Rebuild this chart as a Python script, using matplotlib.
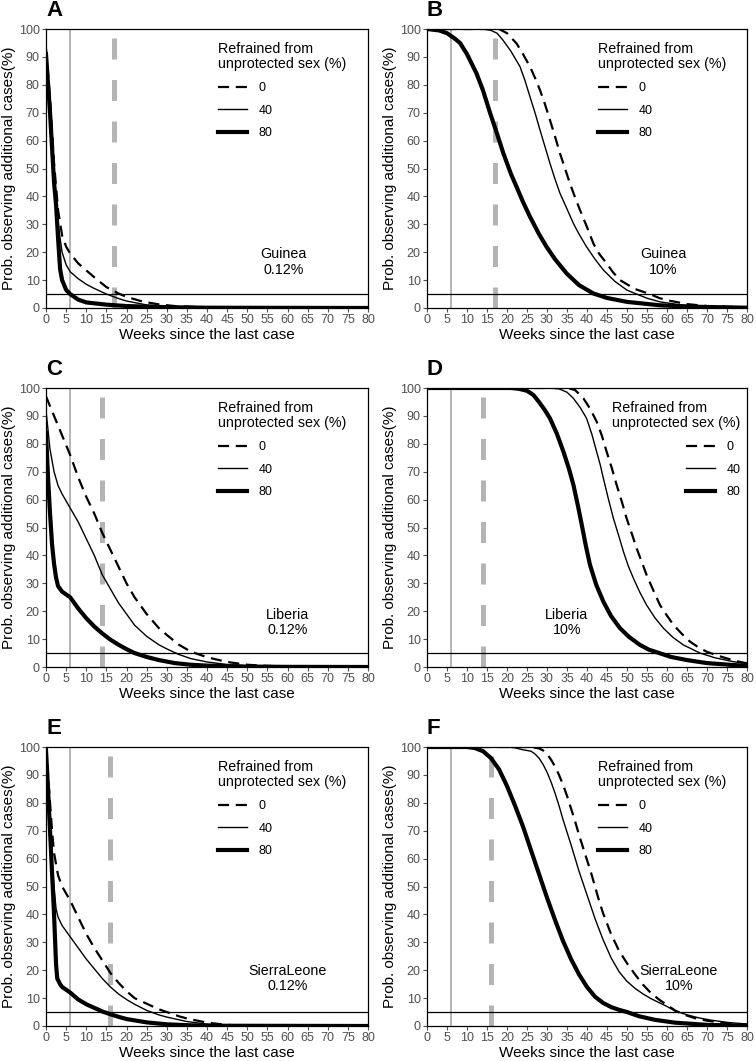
import matplotlib
matplotlib.use("Agg")
import matplotlib.pyplot as plt

plt.rcParams["font.family"] = ["Liberation Sans", "DejaVu Sans"]

W, H = 756, 1061

# ---- data: weeks since last case vs probability (%) ----
# panel A: Guinea, 0.12%
a_w0 = [0, 1, 2, 3, 4, 5, 6, 8, 10, 12, 15, 18, 20, 24, 28, 32, 40, 50, 80]
a_p0 = [93, 75, 52, 35, 26, 22, 19.5, 16, 13.5, 11, 7.5, 5.2, 4, 2.3, 1.3, 0.7, 0.2, 0.05, 0]
a_w40 = [0, 1, 2, 3, 4, 5, 6, 8, 10, 12, 15, 18, 20, 25, 30, 40, 80]
a_p40 = [91, 72, 48, 30, 20, 15.5, 13, 10.5, 8.5, 7, 5, 3.4, 2.5, 1.1, 0.5, 0.1, 0]
a_w80 = [0, 1, 2, 2.5, 3, 3.5, 4, 5, 6, 8, 10, 15, 20, 30, 40, 80]
a_p80 = [91, 70, 45, 37, 25, 14, 10, 6.5, 5, 3, 2, 1.2, 0.7, 0.3, 0.1, 0]

# panel B: Guinea, 10%
b_w0 = [0, 18, 20, 22.4, 24, 25.75, 27, 28.25, 29.5, 30.75, 32, 33.25, 34.5, 35.75, 37, 38.25, 40,
        41.6, 43, 44.9, 46.5, 48.25, 52, 55.75, 58, 60, 65, 70, 80]
b_p0 = [100, 100, 98.5, 94.8, 91, 86.5, 82.5, 78.1, 73, 67.3, 61.5, 55.4, 50, 44.6, 39.7, 35.1, 29,
        23.1, 19.5, 16, 12.8, 10, 6.8, 5, 3.6, 2.8, 1.4, 0.7, 0.2]
b_w40 = [0, 14, 16, 17.5, 19, 21, 23.25, 24.5, 25.75, 27, 28.25, 29.5, 30.75, 32, 33.25, 35, 36.6,
         38, 39.9, 42, 44.1, 47, 50, 52.4, 55, 58.25, 63, 70, 80]
b_p40 = [100, 100, 99.5, 98.5, 96, 92, 86.5, 81.5, 75.7, 70, 63.8, 57.8, 51.8, 46.2, 41.1, 35.5, 30.3,
         26.5, 21.9, 17.5, 13.6, 9.5, 6.4, 5, 3.5, 2.2, 1.2, 0.5, 0.1]
b_w80 = [0, 3, 5, 7, 8.25, 10, 12.4, 14, 15.75, 17.5, 19.1, 21, 22.4, 24, 25.75, 28, 29.9, 32, 34.9,
         38, 41.6, 45, 50, 58, 65, 80]
b_p80 = [100, 99.5, 98.5, 96.5, 95, 91, 84, 78, 70, 62.5, 55.4, 48, 43.4, 38, 32.7, 26.5, 21.9, 17.5,
         12.4, 8.2, 5.2, 3.6, 2.2, 1, 0.5, 0.1]

# panel C: Liberia, 0.12%
c_w0 = [0, 2, 4, 6, 8, 10, 12, 14, 16, 18, 20, 22, 25, 28, 30, 33, 36, 40, 45, 50, 55, 60, 70, 80]
c_p0 = [97, 90, 83, 76, 68, 61, 55, 48, 42, 36, 30, 25, 19, 14, 11.5, 8, 5.5, 3.5, 1.8, 0.8, 0.4, 0.2, 0.05, 0]
c_w40 = [0, 1, 2, 3, 4, 6, 8, 10, 12, 14, 16, 18, 20, 22, 25, 28, 30, 33, 36, 40, 45, 50, 60, 80]
c_p40 = [92, 78, 70, 65, 62, 57, 52, 46, 40, 33, 28, 23, 19, 15, 11, 8, 6.5, 4.5, 3, 1.8, 0.9, 0.4, 0.1, 0]
c_w80 = [0, 0.5, 1, 1.5, 2, 2.5, 3, 4, 5, 6, 8, 10, 12, 14, 16, 18, 20, 22, 25, 28, 32, 36, 40, 50, 60, 80]
c_p80 = [84, 68, 55, 44, 37, 32, 29, 27, 26, 25, 21, 17.5, 14.5, 12, 9.8, 8, 6.4, 5, 3.6, 2.5, 1.4, 0.8, 0.5, 0.15, 0.05, 0]

# panel D: Liberia, 10%
d_w0 = [0, 35, 37, 39.1, 40.8, 42.4, 43.7, 44.9, 46.2, 47.4, 48.7, 49.9, 51.2, 52.4, 53.7, 54.9, 56.6,
        58.25, 60, 61.6, 63.7, 65.75, 67.8, 69.9, 72.4, 74.9, 77.4, 80]
d_p0 = [100, 100, 99.3, 96.3, 92.5, 88, 83, 77.2, 71.3, 65.3, 59.3, 53.3, 47.8, 42.6, 37.6, 33, 27.4,
        22.2, 18.4, 15.1, 11.9, 9.1, 7.1, 5.5, 4.2, 3.1, 2.1, 1.3]
d_w40 = [0, 31, 33, 35, 36.6, 38.3, 39.9, 41.2, 42.4, 43.3, 44.1, 45.3, 46.6, 47.9, 49.1, 50.3, 51.6,
         53.2, 54.9, 57, 59.1, 61.5, 64.1, 68.25, 72, 76.6, 80]
d_p40 = [100, 100, 99.7, 98.5, 96.3, 93, 89.1, 83.5, 77.2, 72.5, 67.6, 60.5, 53.3, 47.2, 41.4, 36.3,
         31.8, 26.8, 22.2, 17.6, 13.9, 10.6, 7.9, 5, 3.3, 1.9, 1.3]
d_w80 = [0, 21, 23, 25, 26.6, 28, 29.5, 30.75, 32.5, 34.1, 35.5, 36.6, 37.7, 38.7, 39.7, 40.75, 42.3,
         44.1, 46, 48.25, 50.5, 53.25, 55.5, 58.25, 61, 64.9, 70, 76.6, 80]
d_p80 = [100, 100, 99.7, 99, 97.5, 95, 92, 89.1, 83.5, 77.2, 71, 65.3, 58, 50.9, 43.5, 36.6, 29.5,
         23.4, 18.3, 13.9, 10.8, 7.9, 6.2, 4.9, 3.6, 2.5, 1.4, 0.7, 0.5]

# panel E: Sierra Leone, 0.12%
e_w0 = [0, 0.5, 1, 1.5, 2, 3, 4, 5, 6, 8, 10, 12, 14, 16, 18, 20, 22, 25, 28, 30, 33, 35, 40, 45, 50, 80]
e_p0 = [100, 90, 80, 70, 62, 54, 50, 47.5, 45, 39, 33, 28, 23.5, 19, 15.5, 12.5, 10, 8, 6, 5, 3.5, 2.7, 1.2, 0.4, 0.1, 0]
e_w40 = [0, 0.5, 1, 1.5, 2, 2.5, 3, 4, 5, 6, 8, 10, 12, 14, 16, 18, 20, 22, 25, 28, 30, 35, 40, 45, 50, 80]
e_p40 = [99, 85, 72, 60, 50, 42, 39, 36, 34, 32, 28, 24, 20.5, 17, 14, 11.5, 9.5, 7.8, 5.6, 4, 3.2, 1.6, 0.7, 0.3, 0.1, 0]
e_w80 = [0, 0.5, 1, 1.5, 2, 2.5, 2.8, 3.5, 4, 5, 6, 8, 10, 12, 14, 16, 18, 20, 25, 30, 35, 40, 80]
e_p80 = [99, 85, 70, 55, 40, 22, 17, 15, 14, 13, 12, 9.5, 7.8, 6.5, 5.2, 4.2, 3.3, 2.5, 1.3, 0.6, 0.3, 0.1, 0]

# panel F: Sierra Leone, 10%
f_w0 = [0, 26, 28, 29, 30, 31, 32, 33, 34, 35, 36, 37, 38, 39, 40, 41, 42, 43, 44, 46, 48, 50, 52, 54,
        56, 58, 60, 62, 64, 67, 70, 75, 80]
f_p0 = [100, 100, 99.5, 98.8, 97.5, 95.5, 93, 90, 86.5, 82.5, 78, 73.5, 68.5, 64, 59.5, 55, 50, 45,
        40.5, 33, 27, 22.5, 18.5, 14.8, 11.8, 9.5, 7.5, 5.6, 4.2, 2.8, 1.9, 1, 0.5]
f_w40 = [0, 20, 22, 24, 26, 27, 28, 29, 30, 31, 32, 33, 34, 36, 38, 40, 42, 44, 46, 48, 50, 52, 54,
         56, 58, 60, 62, 65, 68, 71, 75, 80]
f_p40 = [100, 100, 99.7, 99, 98.5, 97.5, 96, 93.8, 91, 87.5, 83.5, 79, 74, 65, 55.5, 47, 38.5, 31,
         24.5, 19.5, 16, 13.5, 11.5, 9.8, 8.4, 7, 5.4, 4, 2.9, 2.1, 1.3, 0.7]
f_w80 = [0, 10, 12, 14, 16, 18, 20, 22, 24, 26, 28, 30, 32, 34, 36, 38, 40, 42, 44, 46, 48, 50, 53,
         57, 62, 70, 80]
f_p80 = [100, 100, 99.6, 98.5, 96, 92, 86, 79, 71.5, 63, 54.5, 46, 38, 30.5, 24, 18.5, 14, 10.5, 8.3,
         6.8, 5.8, 5, 3.5, 2.2, 1.2, 0.4, 0.1]

letters = ["A", "B", "C", "D", "E", "F"]
places = ["Guinea", "Guinea", "Liberia", "Liberia", "SierraLeone", "SierraLeone"]
levels = ["0.12%", "10%", "0.12%", "10%", "0.12%", "10%"]
guide_weeks = [17, 17, 14, 14, 16, 16]   # grey dashed marker
text_x = [59, 59, 60, 35, 60, 63]
text_y = [16.5, 16.5, 16, 16, 17, 17]
series = [
    [(a_w0, a_p0), (a_w40, a_p40), (a_w80, a_p80)],
    [(b_w0, b_p0), (b_w40, b_p40), (b_w80, b_p80)],
    [(c_w0, c_p0), (c_w40, c_p40), (c_w80, c_p80)],
    [(d_w0, d_p0), (d_w40, d_p40), (d_w80, d_p80)],
    [(e_w0, e_p0), (e_w40, e_p40), (e_w80, e_p80)],
    [(f_w0, f_p0), (f_w40, f_p40), (f_w80, f_p80)],
]
refrained = ["0", "40", "80"]

# pixel boxes (left, top, right, bottom)
boxes = [
    (46, 29, 368, 308), (427, 29, 747, 308),
    (46, 388, 368, 667), (427, 388, 747, 667),
    (46, 747, 368, 1026), (427, 747, 747, 1026),
]

styles = [dict(color="black", lw=1.6, dashes=(5, 3)),
          dict(color="black", lw=1.0),
          dict(color="black", lw=3.0)]
grey = "#b4b4b4"
tick_grey = "#505050"

fig = plt.figure(figsize=(W / 100, H / 100), dpi=100)

for i in range(6):
    l, t, r, b = boxes[i]
    ax = fig.add_axes([l / W, 1 - b / H, (r - l) / W, (b - t) / H])
    ax.axvline(6, color=grey, lw=1.4, zorder=1)
    ax.plot([guide_weeks[i], guide_weeks[i]], [0, 100], color=grey, lw=3.6,
            dashes=(4.2, 4.1), solid_capstyle="butt", dash_capstyle="butt", zorder=1)
    ax.axhline(5, color="black", lw=0.9, zorder=2)
    for (wk, pr), lab, st in zip(series[i], refrained, styles):
        ax.plot(wk, pr, label=lab, zorder=3, **st)

    ax.set_xlim(0, 80)
    ax.set_ylim(0, 100)
    ax.set_xticks(range(0, 81, 5))
    ax.set_yticks(range(0, 101, 10))
    ax.tick_params(labelsize=9, labelcolor=tick_grey, length=3, width=0.8,
                   color=tick_grey, pad=1.5)
    for sp in ax.spines.values():
        sp.set_linewidth(0.9)
    ax.set_xlabel("Weeks since the last case", fontsize=11, labelpad=1)
    ax.set_ylabel("Prob. observing additional cases(%)", fontsize=11, labelpad=2)

    ax.text(text_x[i], text_y[i], places[i] + "\n" + levels[i], ha="center", va="center",
            fontsize=10.3, linespacing=1.15)
    ax.text(0, 1.03, letters[i], transform=ax.transAxes, fontsize=16,
            fontweight="bold", ha="left", va="bottom")

    align = "right" if i == 3 else "left"
    anchor = (0.52, 0.97) if i != 3 else (0.562, 0.97)
    leg = ax.legend(title="Refrained from\nunprotected sex (%)", loc="upper left",
                    bbox_to_anchor=anchor, frameon=False, fontsize=9,
                    title_fontsize=10.3, handlelength=2.3, handletextpad=0.9,
                    labelspacing=0.85, alignment=align, borderaxespad=0)
    leg.get_title().set_linespacing(1.1)

fig.savefig("out.png", dpi=100)
